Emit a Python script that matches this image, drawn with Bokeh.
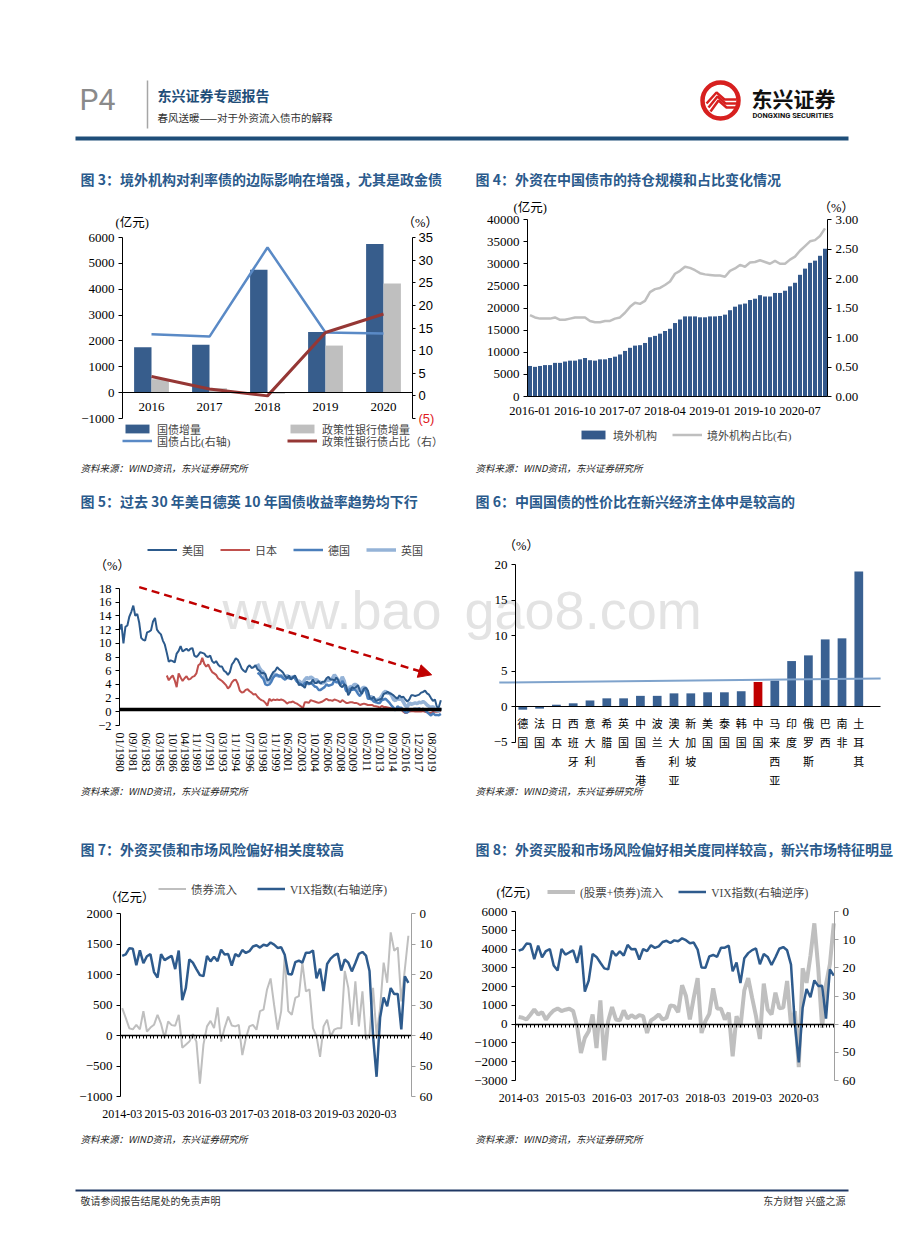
from bokeh.plotting import figure
from bokeh.models import (Range1d, LinearAxis, FixedTicker, Label, Legend, LegendItem,
                          Arrow, NormalHead, NumeralTickFormatter)
from bokeh.layouts import column, row
from bokeh.embed import file_html
from bokeh.resources import INLINE

# ---------------- data ----------------
# Fig 3
years3 = ["2016", "2017", "2018", "2019", "2020"]
gz_inc3 = [1760, 1850, 4750, 2350, 5750]
zj_inc3 = [520, 170, -40, 1820, 4220]
gz_pct3 = [13.6, 13.1, 32.8, 14.0, 13.8]
zj_pct3 = [4.3, 1.5, 0.0, 14.0, 18.1]

# Fig 4 (monthly 2016-01 .. 2020-12)
ticks4 = ["2016-01", "2016-10", "2017-07", "2018-04", "2019-01", "2019-10", "2020-07"]
hold4 = [6900, 6700, 6900, 7100, 7100, 7600, 7600, 7900, 8100, 8100, 8400, 8700,
         8200, 8100, 8400, 8400, 8700, 9000, 9500, 10300, 11000, 11500, 11600, 12100,
         13400, 13700, 14200, 14800, 15300, 16600, 17400, 18100, 18100, 18100, 17900, 17900,
         18100, 18100, 18200, 18500, 19500, 20300, 20800, 21000, 21800, 22100, 22900, 22600,
         22600, 23400, 23400, 23900, 24900, 25700, 27500, 28900, 30200, 30700, 31800, 33400]
share4 = [1.38, 1.34, 1.32, 1.32, 1.32, 1.34, 1.30, 1.30, 1.32, 1.34, 1.34, 1.34,
          1.28, 1.26, 1.26, 1.28, 1.28, 1.32, 1.34, 1.42, 1.52, 1.59, 1.57, 1.62,
          1.77, 1.82, 1.84, 1.89, 1.95, 2.08, 2.13, 2.20, 2.18, 2.14, 2.09, 2.07,
          2.06, 2.05, 2.05, 2.03, 2.13, 2.17, 2.23, 2.20, 2.27, 2.28, 2.31, 2.28,
          2.25, 2.30, 2.25, 2.25, 2.32, 2.37, 2.47, 2.55, 2.63, 2.65, 2.72, 2.85]

# Fig 5 (quarterly readings, %)
ticks5 = ["01/1980", "09/1981", "06/1983", "03/1985", "10/1986", "04/1988", "11/1989", "07/1991",
          "03/1993", "11/1994", "07/1996", "03/1998", "11/1999", "06/2001", "02/2003", "10/2004",
          "06/2006", "02/2008", "09/2009", "05/2011", "01/2013", "09/2014", "05/2016", "12/2017",
          "08/2019"]
us5_start = "01/1980"
us5 = [12.0, 12.8, 10.0, 12.4, 12.6, 13.9, 14.6, 15.5, 14.0, 14.3, 13.0, 10.8,
       10.5, 10.4, 11.6, 11.7, 11.9, 13.2, 13.7, 12.0, 11.6, 11.3, 10.4, 9.8,
       8.6, 7.3, 7.5, 7.4, 7.2, 8.5, 8.9, 9.6, 8.8, 9.0, 9.2, 8.9,
       9.2, 9.3, 8.2, 8.0, 8.3, 8.7, 8.6, 8.5, 8.1, 8.0, 8.2, 7.4,
       7.1, 7.4, 6.9, 6.6, 6.6, 6.0, 5.8, 5.4, 5.8, 6.9, 7.3, 7.8,
       7.6, 7.0, 6.3, 6.0, 5.8, 6.5, 6.8, 6.4, 6.5, 6.8, 6.2, 6.0,
       5.6, 5.7, 5.5, 4.6, 4.7, 5.3, 5.8, 6.0, 6.5, 6.2, 6.0, 5.7,
       5.2, 4.9, 5.3, 4.7, 5.0, 5.3, 4.7, 3.9, 4.0, 3.8, 3.5, 4.4,
       4.2, 4.1, 4.7, 4.2, 4.2, 4.5, 4.1, 4.4, 4.4, 4.9, 5.1, 4.7,
       4.7, 4.6, 5.0, 4.6, 3.8, 3.6, 4.0, 3.8, 2.4, 2.9, 3.6, 3.4,
       3.6, 3.9, 3.0, 2.6, 3.4, 3.5, 3.1, 2.0, 1.9, 2.2, 1.6, 1.7,
       1.8, 1.9, 2.6, 2.7, 2.9, 2.7, 2.6, 2.4, 2.1, 1.9, 2.4, 2.1,
       2.2, 1.8, 1.5, 1.8, 2.4, 2.4, 2.3, 2.4, 2.5, 2.8, 2.9, 3.1,
       2.7, 2.5, 2.0, 1.6, 1.8, 0.7, 0.7, 1.7]
jp5_start = "01/1986"
jp5 = [5.3, 4.6, 5.0, 5.3, 4.6, 3.6, 5.6, 5.0, 4.5, 4.9, 5.2, 4.7,
       4.8, 5.1, 5.2, 5.6, 6.8, 7.0, 7.9, 7.0, 6.6, 6.9, 6.3, 5.8,
       5.6, 5.4, 4.9, 4.7, 4.5, 4.2, 3.9, 3.4, 3.7, 4.3, 4.6, 4.7,
       4.1, 3.1, 2.8, 2.9, 3.2, 3.3, 3.0, 2.8, 2.5, 2.6, 2.2, 1.9,
       1.7, 1.6, 1.3, 0.9, 1.9, 1.6, 1.8, 1.7, 1.8, 1.7, 1.8, 1.7,
       1.5, 1.2, 1.4, 1.4, 1.5, 1.3, 1.2, 1.0, 0.8, 0.5, 1.4, 1.4,
       1.3, 1.7, 1.6, 1.5, 1.4, 1.3, 1.4, 1.5, 1.7, 1.9, 1.7, 1.7,
       1.6, 1.8, 1.7, 1.6, 1.4, 1.7, 1.5, 1.3, 1.3, 1.4, 1.4, 1.3,
       1.3, 1.2, 1.0, 1.1, 1.2, 1.1, 1.0, 1.0, 1.0, 0.85, 0.8, 0.75,
       0.6, 0.85, 0.7, 0.7, 0.64, 0.57, 0.5, 0.35, 0.4, 0.45, 0.35, 0.3,
       0.0, -0.2, -0.1, 0.05, 0.07, 0.08, 0.06, 0.05, 0.05, 0.04, 0.12, 0.0,
       -0.08, -0.15, -0.2, -0.02, 0.0, 0.02, 0.03, 0.1]
de5_start = "07/1997"
de5 = [5.7, 5.5, 5.1, 4.8, 4.0, 3.9, 4.0, 4.4, 5.0, 5.3, 5.4, 5.2, 5.2, 4.9,
       4.7, 5.0, 4.9, 4.8, 5.1, 4.9, 4.4, 4.2, 4.0, 3.8, 4.2, 4.3,
       4.0, 4.3, 4.0, 3.7, 3.6, 3.2, 3.2, 3.4, 3.6, 4.0, 3.8, 3.9,
       4.0, 4.6, 4.3, 4.3, 3.9, 4.5, 4.0, 3.0, 3.0, 3.4, 3.2, 3.3,
       3.1, 2.6, 2.3, 2.9, 3.3, 3.0, 1.9, 1.9, 1.8, 1.5, 1.4, 1.3,
       1.3, 1.7, 1.8, 1.9, 1.6, 1.3, 0.9, 0.6, 0.2, 0.8, 0.6, 0.6,
       0.2, -0.1, -0.1, 0.2, 0.3, 0.4, 0.45, 0.4, 0.5, 0.3, 0.45, 0.25,
       -0.05, -0.3, -0.55, -0.2, -0.45, -0.45, -0.5, -0.3]
uk5_start = "07/1997"
uk5 = [7.0, 6.4, 6.0, 5.8, 4.9, 4.4, 4.6, 5.0, 5.4, 5.5, 5.3, 5.2, 5.3, 5.0,
       4.9, 5.3, 5.1, 5.0, 5.1, 5.0, 4.5, 4.5, 4.3, 4.2, 4.7, 5.0,
       4.8, 5.1, 4.9, 4.6, 4.7, 4.3, 4.3, 4.2, 4.3, 4.6, 4.6, 4.7,
       4.9, 5.4, 5.0, 4.6, 4.3, 5.1, 4.5, 3.2, 3.1, 3.7, 3.6, 4.0,
       4.0, 3.4, 3.0, 3.4, 3.6, 3.4, 2.5, 2.1, 2.2, 1.7, 1.7, 1.8,
       1.9, 2.3, 2.8, 3.0, 2.7, 2.7, 2.4, 1.8, 1.6, 2.0, 1.8, 1.9,
       1.4, 0.9, 0.7, 1.3, 1.1, 1.2, 1.3, 1.2, 1.4, 1.3, 1.5, 1.3,
       1.0, 0.8, 0.5, 0.8, 0.3, 0.2, 0.15, 0.6]
trend5 = [(30, 18.2), (475, 5.4)]

# Fig 6
countries6 = ["德国", "法国", "日本", "西班牙", "意大利", "希腊", "英国", "中国香港", "波兰",
              "澳大利亚", "新加坡", "美国", "泰国", "韩国", "中国", "马来西亚", "印度", "俄罗斯",
              "巴西", "南非", "土耳其"]
yield6 = [-0.45, -0.3, 0.25, 0.45, 0.85, 1.15, 1.15, 1.5, 1.5, 1.85, 1.85, 2.0, 2.0, 2.15,
          3.45, 3.65, 6.4, 7.2, 9.45, 9.6, 19.0]
trend6 = [(-1.4, 3.38), (21.3, 3.94)]

# Fig 7 / Fig 8 (monthly 2014-03 .. 2020-12)
ticks78 = ["2014-03", "2015-03", "2016-03", "2017-03", "2018-03", "2019-03", "2020-03"]
bond7 = [450, 290, 120, 100, 175, 100, 400, 65, 130, 175,
         340, 190, -40, 230, 170, 160, 340, -200, -150, -100,
         20, -100, -790, -150, 150, 240, 120, 460, -100, 130,
         310, 165, 150, 175, -320, -45, 150, 175, 95, 400,
         425, 755, 935, 500, 95, 400, 1300, 400, 340, 615,
         645, 1195, 725, 755, 120, -15, -350, 150, 260, -15,
         95, 120, 120, 1060, 780, 175, 890, 150, 725, -70,
         10, 780, 10, 450, 1195, 865, 1690, 1390, 1445, 560,
         1085, 1635]
flow8 = [390, 340, 250, 500, 785, 520, 640, 250, 520, 730,
         840, 700, 770, 820, 700, -100, -1540, -730, -375, 520,
         -1270, 1270, -1930, 160, 910, 250, 200, 730, 300, 480,
         340, 480, 430, -470, 200, 340, 520, 250, 340, 1000,
         960, 640, 2070, 1500, 250, 1410, 2450, -470, 160, 550,
         1910, 840, 820, 250, 610, -1710, 430, -160, 1800, 2450,
         1410, 430, -790, 2160, 785, 520, 1680, 840, 880, 2300,
         -50, 700, -2290, 2980, 2200, 3640, 5370, 3000, -200, 2120,
         3200, 5370]
vix78 = [13.88, 13.41, 11.40, 11.57, 16.95, 12.09, 16.31, 14.03, 13.33, 19.20,
         20.97, 13.34, 15.29, 14.55, 13.84, 18.23, 12.12, 28.43, 24.50, 15.07, 16.13, 18.21,
         20.20, 20.55, 13.95, 15.70, 14.19, 15.63, 11.87, 13.42, 13.29, 17.06, 13.33, 14.04,
         11.99, 12.92, 12.37, 10.82, 10.41, 11.18, 10.26, 10.59, 9.51, 10.18, 11.28, 11.04,
         13.54, 19.85, 19.97, 15.93, 15.43, 16.09, 12.83, 12.86, 12.12, 21.23, 18.07, 25.42,
         16.57, 14.78, 13.71, 13.12, 18.71, 15.08, 16.12, 18.98, 16.24, 13.22, 12.62, 13.78,
         18.84, 40.11, 53.54, 34.15, 27.51, 30.43, 24.46, 26.41, 26.37, 38.02, 20.57, 22.75]

# ---------------- style ----------------
SERIF = "Liberation Serif"
SANS = "Liberation Sans"
CJK = "Noto Sans CJK SC"
MIX = "Liberation Serif, Noto Sans CJK SC"
TITLE_BLUE = "#2A5A8C"
BAR_BLUE = "#375D8C"
GRAY = "#BFBFBF"
WATERMARK = "#E3E3E3"
SOURCE = "资料来源：WIND资讯，东兴证券研究所"


def lin_range(d0, p0, d1, p1, c0, c1):
    """Range whose value d0 sits at page pixel p0 and d1 at p1, over canvas pixels c0..c1."""
    k = (d1 - d0) / (p1 - p0)
    return Range1d(start=d0 + (c0 - p0) * k, end=d0 + (c1 - p0) * k)


class Box:
    def __init__(self, X, Y, W, H):
        self.X, self.Y, self.W, self.H = X, Y, W, H

    def sx(self, px):
        return px - self.X

    def sy(self, py):
        return self.Y + self.H - py


def chart(box, xr, yr):
    p = figure(width=box.W, height=box.H, x_range=xr, y_range=yr, output_backend="svg",
               toolbar_location=None, tools="", x_axis_type=None, y_axis_type=None,
               min_border=0)
    p.title.visible = False
    p.outline_line_color = None
    return p


def axis(p, side, loc, bounds, ticks, font=SERIF, size="13px", line="black", tick_out=4,
         standoff=4, range_name=None, overrides=None, formatter=None, show_line=True,
         show_ticks=True, show_labels=True, orientation=None, line_width=1):
    kw = {}
    if range_name:
        kw["y_range_name" if side in ("left", "right") else "x_range_name"] = range_name
    ax = LinearAxis(fixed_location=loc, bounds=bounds, ticker=FixedTicker(ticks=ticks), **kw)
    if formatter is not None:
        ax.formatter = formatter
    if overrides:
        ax.major_label_overrides = overrides
    ax.axis_line_color = line if show_line else None
    ax.axis_line_width = line_width
    ax.major_tick_line_color = line if show_ticks else None
    ax.major_tick_out = tick_out
    ax.major_tick_in = 0
    ax.minor_tick_line_color = None
    ax.major_label_text_font = font
    ax.major_label_text_font_size = size
    ax.major_label_text_color = "black"
    ax.major_label_standoff = standoff
    if not show_labels:
        ax.major_label_text_alpha = 0
    if orientation:
        ax.major_label_orientation = orientation
    p.add_layout(ax, side)
    return ax


def txt(p, box, px, py, text, size, color="#000000", font=CJK, style="normal",
        align="left", baseline="middle", level="annotation"):
    p.add_layout(Label(x=box.sx(px), y=box.sy(py), x_units="screen", y_units="screen",
                       text=text, text_font=font, text_font_size=f"{size}px",
                       text_color=color, text_font_style=style, text_align=align,
                       text_baseline=baseline, level=level))


def deco(p, box, left, title, ty, sy):
    txt(p, box, left, ty, title, 14, TITLE_BLUE, CJK, "bold")
    txt(p, box, left, sy, SOURCE, 9.5, "#222222", CJK, "italic")


def legend(p, box, items, left, bottom, orientation="vertical", spacing=1, gw=30, gh=11,
           size="11px"):
    lg = Legend(items=items, location=(box.sx(left), box.sy(bottom)), orientation=orientation,
                spacing=spacing, glyph_width=gw, glyph_height=gh, label_height=gh,
                label_width=10, label_text_font=MIX, label_text_font_size=size,
                label_standoff=5, padding=0, margin=0, border_line_color=None,
                background_fill_alpha=0)
    p.add_layout(lg)
    return lg


def month_index(label):
    mm, yy = label.split("/")
    return (int(yy) - 1980) * 12 + (int(mm) - 1)


# ---------------- header ----------------
HB = Box(0, 0, 915, 160)
hdr = chart(HB, Range1d(0, 915), Range1d(160, 0))
hdr.add_layout(Label(x=79, y=99, text="P4", text_font="Liberation Sans Narrow, Roboto",
                     text_font_size="30px", text_color="#8A8A8A", text_baseline="middle"))
hdr.line([147, 147], [80, 128], line_color="#A6A6A6", line_width=1.5)
hdr.add_layout(Label(x=157, y=94, text="东兴证券专题报告", text_font=CJK, text_font_size="14px",
                     text_font_style="bold", text_color="#1F4E79", text_baseline="middle"))
hdr.add_layout(Label(x=157, y=117, text="春风送暖——对于外资流入债市的解释", text_font=CJK,
                     text_font_size="10.5px", text_color="#333333", text_baseline="middle"))
hdr.circle(x=[720], y=[100], radius=18, fill_color=None, line_color="#D7201F", line_width=4.5)
hdr.multi_line(xs=[[706, 716, 724, 736], [708, 717, 725, 736], [710, 718, 726, 736]],
               ys=[[103, 92, 99, 99], [107, 96, 103, 103], [111, 100, 107, 107]],
               line_color="#D7201F", line_width=2.5)
hdr.add_layout(Label(x=751, y=97, text="东兴证券", text_font=CJK, text_font_size="21px",
                     text_font_style="bold", text_color="#111111", text_baseline="middle"))
hdr.add_layout(Label(x=752, y=115, text="DONGXING SECURITIES", text_font="Roboto",
                     text_font_size="7.5px", text_font_style="bold", text_color="#111111",
                     text_baseline="middle"))
hdr.line([75, 848], [138, 138], line_color="#1F4E79", line_width=4)

# ---------------- Fig 3 ----------------
B3 = Box(0, 160, 460, 320)
n3 = len(years3)
p3 = chart(B3, lin_range(-0.5, 122, n3 - 0.5, 412, 0, 460),
           lin_range(-1000, 418, 6000, 237, 480, 160))
p3.extra_y_ranges = {"pct": lin_range(-5, 418, 35, 237, 480, 160)}
x3 = list(range(n3))
b31 = p3.vbar(x=[i - 0.15 for i in x3], top=gz_inc3, width=0.3, fill_color=BAR_BLUE,
              line_color=None)
b32 = p3.vbar(x=[i + 0.15 for i in x3], top=zj_inc3, width=0.3, fill_color=GRAY,
              line_color=None)
l31 = p3.line(x3, gz_pct3, y_range_name="pct", line_color="#5A8AC6", line_width=2.5)
l32 = p3.line(x3, zj_pct3, y_range_name="pct", line_color="#953735", line_width=3)
axis(p3, "left", -0.5, (-1000, 6000), list(range(-1000, 6001, 1000)))
axis(p3, "below", 0, (-0.5, n3 - 0.5), x3, overrides={i: y for i, y in enumerate(years3)},
     show_ticks=False, standoff=6)
axis(p3, "right", n3 - 0.5, (-5, 35), list(range(-5, 36, 5)), font=SANS, range_name="pct",
     overrides={-5: " "}, tick_out=3, standoff=3)
p3.add_layout(Label(x=B3.sx(418), y=-5, x_units="screen", y_range_name="pct", text="(5)",
                    text_font=SANS, text_font_size="13px", text_color="#E0191C",
                    text_baseline="middle"))
legend(p3, B3, [LegendItem(label="国债增量", renderers=[b31])], 122, 436.5)
legend(p3, B3, [LegendItem(label="政策性银行债增量", renderers=[b32])], 287, 436.5)
legend(p3, B3, [LegendItem(label="国债占比(右轴)", renderers=[l31])], 122, 448.5)
legend(p3, B3, [LegendItem(label="政策性银行债占比（右）", renderers=[l32])], 287, 448.5)
txt(p3, B3, 115, 222, "(亿元)", 12.5, font=MIX)
txt(p3, B3, 402, 222, "（%）", 12.5, font=MIX)
deco(p3, B3, 80, "图 3：境外机构对利率债的边际影响在增强，尤其是政金债", 178, 467)

# ---------------- Fig 4 ----------------
B4 = Box(460, 160, 455, 320)
n4 = len(hold4)
p4 = chart(B4, lin_range(-0.5, 527, n4 - 0.5, 827, 460, 915),
           lin_range(0, 396, 40000, 219, 480, 160))
p4.extra_y_ranges = {"pct": lin_range(0, 396, 3.0, 219, 480, 160)}
x4 = list(range(n4))
b41 = p4.vbar(x=x4, top=hold4, width=0.8, fill_color="#34598B", line_color=None)
l41 = p4.line(x4, share4, y_range_name="pct", line_color=GRAY, line_width=2.5)
axis(p4, "left", -0.5, (0, 40000), list(range(0, 40001, 5000)))
pos4 = [9 * i for i in range(len(ticks4))]
axis(p4, "below", 0, (-0.5, n4 - 0.5), pos4, overrides=dict(zip(pos4, ticks4)),
     size="12.5px", show_ticks=False, standoff=6)
axis(p4, "right", n4 - 0.5, (0, 3.0), [0, 0.5, 1.0, 1.5, 2.0, 2.5, 3.0], range_name="pct",
     formatter=NumeralTickFormatter(format="0.00"))
legend(p4, B4, [LegendItem(label="境外机构", renderers=[b41]),
                LegendItem(label="境外机构占比(右)", renderers=[l41])], 578, 442.5,
       orientation="horizontal", spacing=15)
txt(p4, B4, 513, 207, "(亿元)", 12.5, font=MIX)
txt(p4, B4, 818, 207, "（%）", 12.5, font=MIX)
deco(p4, B4, 475, "图 4：外资在中国债市的持仓规模和占比变化情况", 178, 467)

# ---------------- Fig 5 ----------------
B5 = Box(0, 480, 460, 330)
X5_END = 490
p5 = chart(B5, lin_range(0, 119, X5_END, 441, 0, 460), lin_range(-2, 725, 18, 588, 810, 480))


def qx(start, vals):
    s = month_index(start)
    return [s + 3 * i for i in range(len(vals))]


txt(p5, B5, 222, 609, "www.bao", 54, WATERMARK, SANS, level="underlay")
r_jp = p5.line(qx(jp5_start, jp5), jp5, line_color="#C0504D", line_width=2)
r_uk = p5.line(qx(uk5_start, uk5), uk5, line_color="#95B3D7", line_width=3.5)
r_de = p5.line(qx(de5_start, de5), de5, line_color="#4A7EBB", line_width=2.5)
r_us = p5.line(qx(us5_start, us5), us5, line_color="#2C5A8C", line_width=2)
p5.add_layout(Arrow(x_start=trend5[0][0], y_start=trend5[0][1], x_end=trend5[1][0],
                    y_end=trend5[1][1], line_color="#C00000", line_width=2.5, line_dash="8 5",
                    end=NormalHead(size=13, fill_color="#C00000", line_color="#C00000")))
axis(p5, "left", 0, (-2, 18), list(range(-2, 19, 2)), size="12.5px")
axis(p5, "below", 0.3, (0, X5_END), [], line_width=3.5, show_ticks=False, show_labels=False)
pos5 = [month_index(t) for t in ticks5]
axis(p5, "below", -2, (0, X5_END), pos5, overrides=dict(zip(pos5, ticks5)), size="12px",
     show_line=False, show_ticks=False, standoff=3, orientation="vertical")
legend(p5, B5, [LegendItem(label="美国", renderers=[r_us]), LegendItem(label="日本", renderers=[r_jp]),
                LegendItem(label="德国", renderers=[r_de]), LegendItem(label="英国", renderers=[r_uk])],
       147, 557.5, orientation="horizontal", spacing=16)
txt(p5, B5, 94, 565, "（%）", 12.5, font=MIX)
deco(p5, B5, 80, "图 5：过去 30 年美日德英 10 年国债收益率趋势均下行", 500, 790)

# ---------------- Fig 6 ----------------
B6 = Box(460, 480, 455, 330)
n6 = len(countries6)
p6 = chart(B6, lin_range(0, 522.3, n6 - 1, 858.3, 460, 915), lin_range(0, 706, 20, 564, 810, 480))
txt(p6, B6, 464, 609, "gao8.com", 54, WATERMARK, SANS, level="underlay")
cols6 = ["#C00000" if c == "中国" else "#3A6192" for c in countries6]
p6.vbar(x=list(range(n6)), top=yield6, width=0.52, fill_color=cols6, line_color=None)
p6.line([t[0] for t in trend6], [t[1] for t in trend6], line_color="#7FA3CC", line_width=2)
axis(p6, "left", -0.43, (-5, 20), [-5, 0, 5, 10, 15, 20])
axis(p6, "below", 0, (-0.43, 21.3), list(range(n6)),
     overrides={i: "\n".join(c) for i, c in enumerate(countries6)}, font=CJK, size="11px",
     show_ticks=False, standoff=4)
txt(p6, B6, 503, 545, "（%）", 12.5, font=MIX)
deco(p6, B6, 475, "图 6：中国国债的性价比在新兴经济主体中是较高的", 500, 790)


# ---------------- Fig 7 / 8 ----------------
def vix_chart(box, x_first, x_step, ax_left, ax_right, y_lo, y_hi, py_top, py_bot, left_ticks,
              flow, flow_w, unit_xy, unit_txt, leg_left, leg_bottom, leg_spacing, flow_label,
              left, title):
    n = len(flow)
    x_lo = (ax_left - x_first) / x_step
    x_hi = (ax_right - x_first) / x_step
    p = chart(box, lin_range(0, x_first, 1, x_first + x_step, box.X, box.X + box.W),
              lin_range(y_lo, py_bot, y_hi, py_top, box.Y + box.H, box.Y))
    p.extra_y_ranges = {"vix": lin_range(60, py_bot, 0, py_top, box.Y + box.H, box.Y)}
    xs = list(range(n))
    rg = p.line(xs, flow, line_color=GRAY, line_width=flow_w)
    rb = p.line(xs, vix78, y_range_name="vix", line_color="#2E5B8D", line_width=2.5)
    axis(p, "left", x_lo, (y_lo, y_hi), left_ticks)
    pos = [12 * i for i in range(len(ticks78))]
    axis(p, "below", y_lo, (x_lo, x_hi), pos, overrides=dict(zip(pos, ticks78)), size="12px",
         show_line=False, show_ticks=False, standoff=9)
    axis(p, "below", 0, (x_lo, x_hi), xs, tick_out=3, show_labels=False, line_width=1.5)
    axis(p, "right", x_hi, (0, 60), list(range(0, 61, 10)), range_name="vix", line="#A0A0A0")
    legend(p, box, [LegendItem(label=flow_label, renderers=[rg]),
                    LegendItem(label="VIX指数(右轴逆序)", renderers=[rb])], leg_left, leg_bottom,
           orientation="horizontal", spacing=leg_spacing, gw=28, size="11.5px")
    txt(p, box, unit_xy[0], unit_xy[1], unit_txt, 12.5, font=MIX)
    deco(p, box, left, title, 848, 1138)
    return p


p7 = vix_chart(Box(0, 810, 460, 350), 121.7, 3.533, 120, 411, -1000, 2000, 913, 1096,
               list(range(-1000, 2001, 500)), bond7, 2, (104, 897), "（亿元）",
               158, 896.5, 20, "债券流入", 80, "图 7：外资买债和市场风险偏好相关度较高")
p8 = vix_chart(Box(460, 810, 455, 350), 518.2, 3.89, 515, 834, -3000, 6000, 911, 1080,
               list(range(-3000, 6001, 1000)), flow8, 4, (496, 892), "(亿元)",
               547, 899.5, 15, "(股票+债券)流入", 475,
               "图 8：外资买股和市场风险偏好相关度同样较高，新兴市场特征明显")

# ---------------- footer ----------------
FB = Box(0, 1160, 915, 75)
ftr = chart(FB, Range1d(0, 915), Range1d(1235, 1160))
ftr.line([75, 848], [1190, 1190], line_color="#1F3864", line_width=2)
ftr.add_layout(Label(x=80, y=1200, text="敬请参阅报告结尾处的免责声明", text_font=CJK,
                     text_font_size="10px", text_color="#333333", text_baseline="middle"))
ftr.add_layout(Label(x=845, y=1200, text="东方财智 兴盛之源", text_font=CJK,
                     text_font_size="10px", text_color="#333333", text_baseline="middle",
                     text_align="right"))

page = column(hdr, row(p3, p4), row(p5, p6), row(p7, p8), ftr)
open("out.html", "w").write(file_html(page, INLINE))
